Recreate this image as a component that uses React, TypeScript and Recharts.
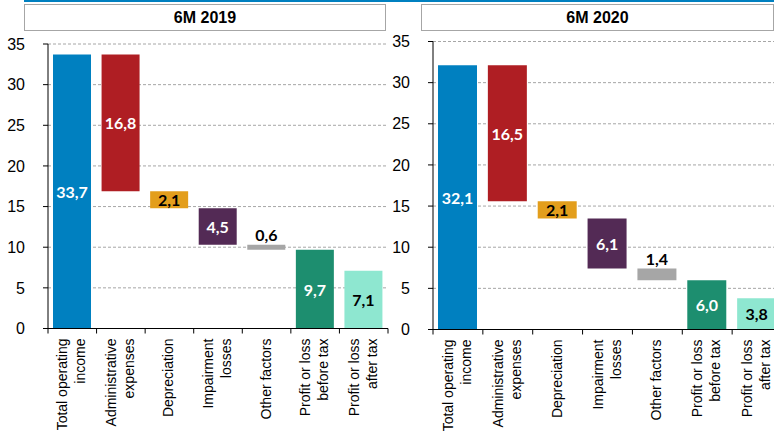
import { BarChart, Bar, XAxis, YAxis, CartesianGrid, Cell, LabelList } from "recharts";

const categories = [
  "Total operating income",
  "Administrative expenses",
  "Depreciation",
  "Impairment losses",
  "Other factors",
  "Profit or loss before tax",
  "Profit or loss after tax",
];

const tickLabels = [
  ["Total operating", "income"],
  ["Administrative", "expenses"],
  ["Depreciation"],
  ["Impairment", "losses"],
  ["Other factors"],
  ["Profit or loss", "before tax"],
  ["Profit or loss", "after tax"],
];

// "total" bars start at zero, "step" bars hang down from the previous level
const barKinds = ["total", "step", "step", "step", "step", "total", "total"];

const values2019 = [33.7, 16.8, 2.1, 4.5, 0.6, 9.7, 7.1];
const values2020 = [32.1, 16.5, 2.1, 6.1, 1.4, 6.0, 3.8];

const yTicks = [0, 5, 10, 15, 20, 25, 30, 35];

const COLORS = ["#0080C0", "#AF1E23", "#E39E1C", "#532A55", "#A6A6A6", "#1D8E6F", "#8EE7D0"];
const LABEL_COLORS = ["#fff", "#fff", "#000", "#fff", "#000", "#fff", "#000"];

const AXIS_FONT = "'Liberation Sans', Arial, sans-serif";
const VALUE_FONT = "Lato, 'Open Sans', sans-serif";

function buildRows(values: number[]) {
  let level = 0;
  return categories.map((name, i) => {
    if (barKinds[i] === "total") {
      level = values[i];
      return { name, base: 0, value: values[i] };
    }
    level = Math.round((level - values[i]) * 10) / 10;
    return { name, base: level, value: values[i] };
  });
}

const fmt = (v: number) => v.toFixed(1).replace(".", ",");

function ValueLabel(props: any) {
  const vb = props.viewBox || props;
  const x = vb.x ?? props.x;
  const y = vb.y ?? props.y;
  const width = vb.width ?? props.width;
  const height = vb.height ?? props.height;
  let index = props.index;
  if (index === undefined) index = categories.indexOf(props.payload?.name);
  const onTop = barKinds[index] === "step" && Math.abs(height) < 14;
  return (
    <text
      x={x + width / 2}
      y={onTop ? y - 4 : y + height / 2}
      textAnchor="middle"
      dominantBaseline={onTop ? "auto" : "central"}
      fill={onTop ? "#000" : LABEL_COLORS[index]}
      fontFamily={VALUE_FONT}
      fontWeight={700}
      fontSize={16}
    >
      {fmt(Number(props.value))}
    </text>
  );
}

function makeTick(plotBottom: number, band: number) {
  return (props: any) => {
    const { x } = props;
    const index = props.index ?? props.payload?.index ?? 0;
    const lines = tickLabels[index] || [];
    const baselines = lines.length === 1 ? [4] : [-5, 13];
    return (
      <g>
        <line x1={x - band / 2} y1={plotBottom} x2={x - band / 2} y2={plotBottom + 5} stroke="#000" />
        {index === categories.length - 1 && (
          <line x1={x + band / 2} y1={plotBottom} x2={x + band / 2} y2={plotBottom + 5} stroke="#000" />
        )}
        <g transform={`translate(${x},${plotBottom + 10}) rotate(-90)`}>
          {lines.map((line, i) => (
            <text
              key={line}
              x={0}
              y={baselines[i]}
              textAnchor="end"
              fontSize={14}
              fontFamily={AXIS_FONT}
              fill="#000"
            >
              {line}
            </text>
          ))}
        </g>
      </g>
    );
  };
}

interface PanelProps {
  values: number[];
  left: number;
  width: number;
  yAxisWidth: number;
  plotTop: number;
  plotBottom: number;
  marginRight: number;
  barSize: number;
}

function WaterfallPanel({ values, left, width, yAxisWidth, plotTop, plotBottom, marginRight, barSize }: PanelProps) {
  const height = 434;
  const rows = buildRows(values);
  const band = (width - yAxisWidth - marginRight) / categories.length;
  return (
    <div style={{ position: "absolute", left, top: 0, width, height }}>
      <BarChart
        width={width}
        height={height}
        data={rows}
        margin={{ top: plotTop, right: marginRight, left: 0, bottom: 0 }}
        barSize={barSize}
      >
        <CartesianGrid vertical={false} stroke="#A6A6A6" strokeDasharray="3 2" />
        <XAxis
          dataKey="name"
          height={height - plotBottom}
          interval={0}
          axisLine={{ stroke: "#000" }}
          tickLine={false}
          tick={makeTick(plotBottom, band)}
        />
        <YAxis
          width={yAxisWidth}
          domain={[0, 35]}
          ticks={yTicks}
          interval={0}
          axisLine={{ stroke: "#000" }}
          tickLine={{ stroke: "#000" }}
          tickSize={5}
          tickMargin={18}
          tick={{ fontSize: 16, fontFamily: AXIS_FONT, fill: "#000" }}
        />
        <Bar dataKey="base" stackId="w" fill="transparent" isAnimationActive={false} />
        <Bar dataKey="value" stackId="w" isAnimationActive={false}>
          {rows.map((r, i) => (
            <Cell key={r.name} fill={COLORS[i]} />
          ))}
          <LabelList dataKey="value" content={ValueLabel} />
        </Bar>
      </BarChart>
    </div>
  );
}

const titleStyle = {
  position: "absolute" as const,
  top: 4,
  height: 27,
  boxSizing: "border-box" as const,
  border: "1px solid #A6A6A6",
  fontFamily: AXIS_FONT,
  fontWeight: 700,
  fontSize: 16,
  lineHeight: "25px",
  textAlign: "center" as const,
  color: "#000",
  background: "#fff",
};

export default function App() {
  return (
    <div
      style={{
        position: "fixed",
        left: 0,
        top: 0,
        width: 774,
        height: 434,
        overflow: "hidden",
        background: "#fff",
      }}
    >
      <WaterfallPanel
        values={values2019}
        left={0}
        width={392}
        yAxisWidth={48}
        plotTop={44}
        plotBottom={328.5}
        marginRight={4}
        barSize={38}
      />
      <WaterfallPanel
        values={values2020}
        left={390}
        width={400}
        yAxisWidth={43}
        plotTop={41.5}
        plotBottom={329.5}
        marginRight={8}
        barSize={39}
      />
      <div style={{ position: "absolute", left: 24, top: 0, width: 750, height: 2, background: "#0080C0" }} />
      <div style={{ ...titleStyle, left: 24, width: 362 }}>6M 2019</div>
      <div style={{ ...titleStyle, left: 421, width: 353 }}>6M 2020</div>
    </div>
  );
}
